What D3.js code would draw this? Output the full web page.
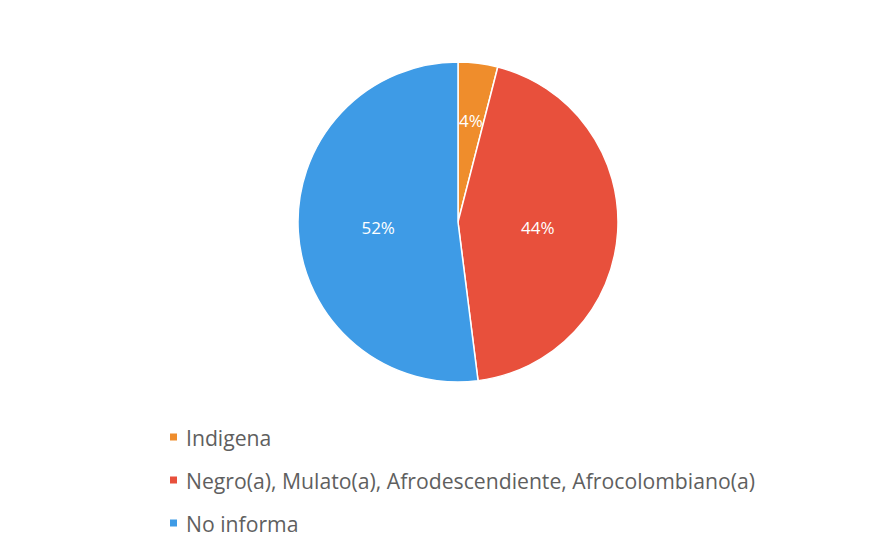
<!DOCTYPE html>
<html><head><meta charset="utf-8">
<script src="https://cdn.jsdelivr.net/npm/d3@7"></script>
<style>body{margin:0;background:#fff}</style>
</head><body>
<svg id="c" width="896" height="553"></svg>
<script>
const categories = ["Indigena", "Negro(a), Mulato(a), Afrodescendiente, Afrocolombiano(a)", "No informa"];
const values = [4, 44, 52];
const colors = ["#ef8d2c", "#e8503c", "#3e9be6"];

const svg = d3.select("#c");
svg.append("rect").attr("width",896).attr("height",553).attr("fill","#fff");
const cx = 458, cy = 222, r = 160;
const pie = d3.pie().sort(null).value(d => d.v);
const data = pie(categories.map((c,i)=>({c, v: values[i], col: colors[i]})));
const arc = d3.arc().innerRadius(0).outerRadius(r);
const g = svg.append("g").attr("transform", `translate(${cx},${cy})`);
g.selectAll("path").data(data).join("path")
  .attr("d", arc).attr("fill", d => d.data.col)
  .attr("stroke", "#fff").attr("stroke-width", 1.5);
g.selectAll("text").data(data).join("text")
  .attr("transform", d => {
    const lr = d.data.v < 10 ? r*0.64 : r*0.5;
    return `translate(${d3.arc().innerRadius(lr).outerRadius(lr).centroid(d)})`;
  })
  .attr("text-anchor","middle").attr("dominant-baseline","central")
  .attr("fill","#fff").attr("font-family","'Open Sans', sans-serif").attr("font-size",17)
  .text(d => d.data.v + "%");

const leg = svg.append("g");
categories.forEach((c,i) => {
  const y = 437 + i*43;
  leg.append("rect").attr("x",170).attr("y",y-3.5).attr("width",7).attr("height",7).attr("fill",colors[i]);
  leg.append("text").attr("x",186).attr("y",y).attr("dominant-baseline","central")
    .attr("font-family","'Open Sans', sans-serif").attr("font-size",21.2).attr("fill","#5f5f5f").text(c);
});
</script>
</body></html>
